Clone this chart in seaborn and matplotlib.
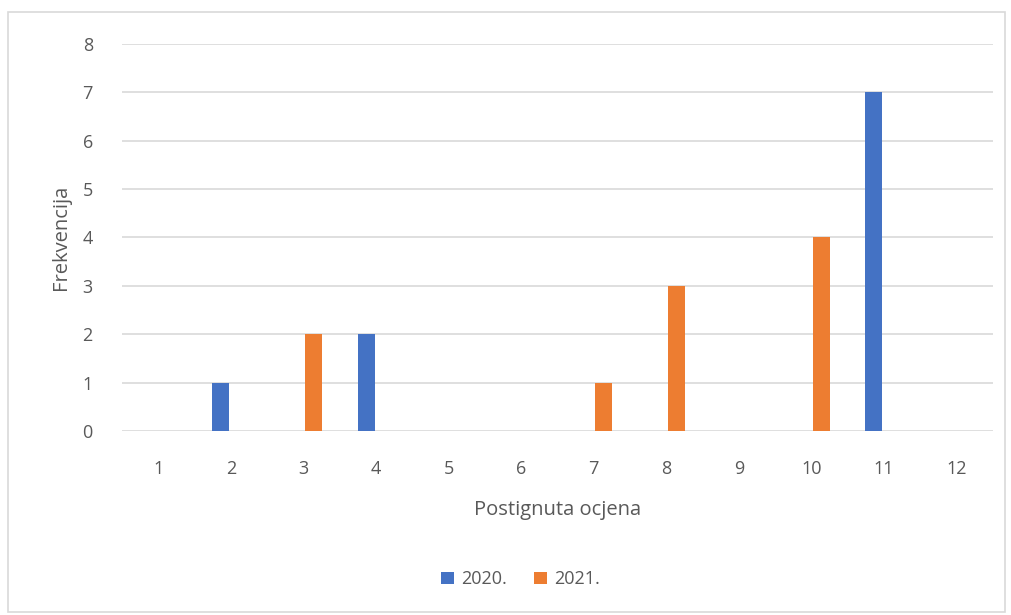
import pandas as pd
import matplotlib
matplotlib.use("Agg")
import matplotlib.pyplot as plt
import seaborn as sns
from matplotlib.patches import Rectangle

# Data
ocjene = ['1', '2', '3', '4', '5', '6', '7', '8', '9', '10', '11', '12']
frek_2020 = [0, 1, 0, 2, 0, 0, 0, 0, 0, 0, 7, 0]
frek_2021 = [0, 0, 2, 0, 0, 0, 1, 3, 0, 4, 0, 0]
godine = ['2020.', '2021.']
boje = ['#4472C4', '#ED7D31']

df = pd.DataFrame({
    'Postignuta ocjena': ocjene * 2,
    'Frekvencija': frek_2020 + frek_2021,
    'Godina': [godine[0]] * len(ocjene) + [godine[1]] * len(ocjene),
})

sns.set_style('white')
plt.rcParams['font.family'] = ['Open Sans', 'DejaVu Sans']
text_col = '#595959'

fig = plt.figure(figsize=(10.11, 6.15), dpi=100)
ax = fig.add_axes([0.1207, 0.2992, 0.8613, 0.6293])

sns.barplot(data=df, x='Postignuta ocjena', y='Frekvencija', hue='Godina',
            palette=boje, saturation=1, width=0.55, gap=0.15, linewidth=0, ax=ax,
            order=ocjene, hue_order=godine)

ax.set_ylim(0, 8)
ax.set_yticks(range(0, 9))
ax.yaxis.grid(True, color='#D9D9D9', linewidth=1.2)
ax.set_axisbelow(True)
for s in ax.spines.values():
    s.set_visible(False)
ax.tick_params(axis='both', length=0, labelsize=13, labelcolor=text_col)
ax.tick_params(axis='y', pad=21)
ax.tick_params(axis='x', pad=21)
ax.set_xlabel('Postignuta ocjena', fontsize=14.5, color=text_col, labelpad=16)
ax.set_ylabel('Frekvencija', fontsize=14.5, color=text_col, labelpad=8)

ax.legend(loc='center', bbox_to_anchor=(0.515, 0.058), bbox_transform=fig.transFigure,
          ncol=2, frameon=False, fontsize=13, labelcolor=text_col,
          handlelength=0.7, handleheight=0.7, handletextpad=0.4, columnspacing=1.5)

fig.patches.append(Rectangle((0.008, 0.005), 0.986, 0.976, transform=fig.transFigure,
                             fill=False, edgecolor='#D9D9D9', linewidth=1.2))

fig.savefig('out.png', dpi=100)
